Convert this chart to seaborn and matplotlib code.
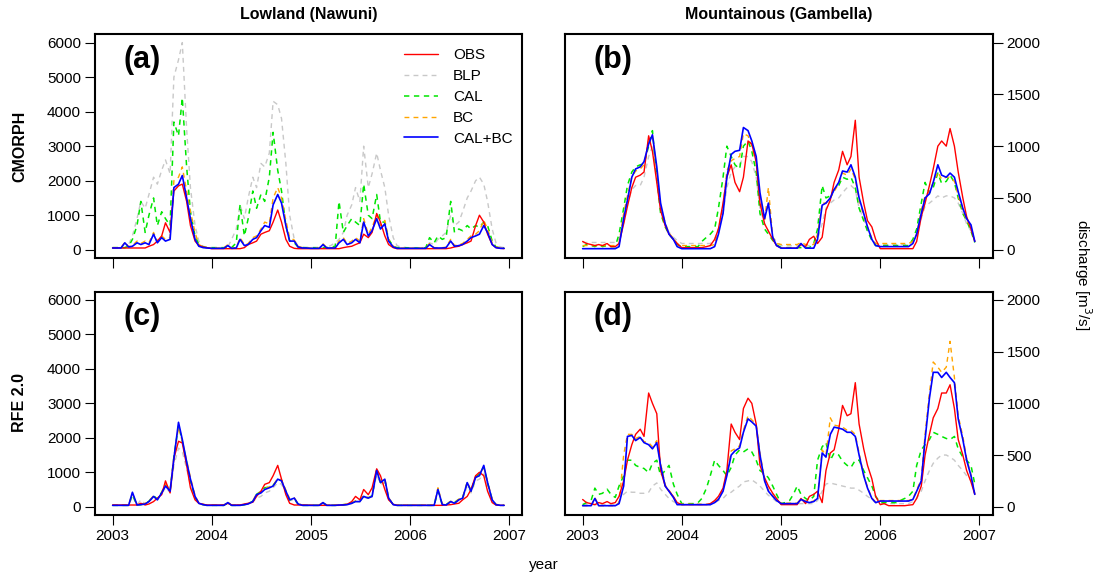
import numpy as np
import pandas as pd
import matplotlib
matplotlib.use("Agg")
import matplotlib.pyplot as plt
from matplotlib.lines import Line2D
import seaborn as sns

sns.set_theme(style="white")
plt.rcParams['font.family'] = ['Liberation Sans', 'DejaVu Sans']
plt.rcParams['text.color'] = 'black'
plt.rcParams['axes.labelcolor'] = 'black'

# semi-monthly dates 2003-01-01 .. 2006-12-15
dates = pd.date_range('2003-01-01', '2006-12-31', freq='SMS')
years = [2003, 2004, 2005, 2006, 2007]
series_names = ["OBS", "BLP", "CAL", "BC", "CAL+BC"]

# ---- Panel (a): Lowland, CMORPH ----
a_obs = [50,50,50,50,50,50,50,50,50,100,150,250,400,780,500,1700,1850,1900,1400,700,250,120,80,60,
         30,30,30,30,30,30,30,30,60,150,200,250,450,500,550,800,1150,800,300,100,40,30,30,30,
         30,30,30,30,30,30,30,30,60,80,100,150,200,450,350,500,1050,800,400,150,60,30,30,30,
         30,30,30,30,30,30,30,30,30,30,50,80,100,150,200,250,700,1000,800,450,150,60,40,30]
a_blp = [60,60,60,60,150,400,900,1400,1200,1600,2100,1900,2300,2600,2200,5000,5500,6000,3500,1800,700,250,100,70,
         60,60,60,60,80,300,600,1300,900,1500,2100,1800,2500,2400,2800,4300,4200,3800,2500,1000,300,100,70,60,
         60,60,60,60,80,120,200,300,500,1000,1300,1800,1400,3000,1800,2200,2800,2300,1800,1000,350,120,70,60,
         60,60,60,60,60,200,150,300,400,500,1000,700,800,1100,1500,1700,2000,2100,1900,1400,600,200,80,60]
a_cal = [60,60,60,60,100,300,700,1400,500,1000,1500,700,1100,900,700,3700,3300,4400,2400,1100,400,150,80,60,
         60,60,60,60,60,60,200,1300,400,900,1700,1200,1600,1400,2100,3400,2300,1700,700,250,200,80,60,60,
         60,60,60,60,60,80,100,1400,500,700,900,800,700,1900,1000,900,1600,800,800,300,100,60,60,60,
         50,50,50,50,60,350,200,400,300,350,1400,500,600,550,700,600,700,650,800,700,250,80,60,50]
a_bc = [60,60,60,220,90,120,250,180,250,200,500,250,400,300,350,2000,2100,2400,1700,1100,500,150,80,60,
        50,50,50,50,150,50,60,350,150,180,350,400,600,800,750,1500,1800,1500,850,350,280,100,60,60,
        50,50,50,170,60,60,60,250,350,180,250,350,250,900,450,650,1000,700,850,300,100,50,50,50,
        50,50,50,50,50,180,60,60,60,70,300,120,150,180,300,400,450,550,850,600,200,80,50,50]
a_calbc = [50,50,50,200,80,100,200,150,200,150,450,200,350,250,300,1800,1900,2150,1500,900,300,100,60,50,
           40,40,40,40,120,40,50,300,120,150,300,350,550,700,650,1300,1600,1350,700,250,250,80,50,50,
           40,40,40,150,50,50,50,200,300,150,200,300,200,800,400,550,900,600,750,250,80,40,40,40,
           40,40,40,40,40,150,50,50,50,60,250,100,120,150,250,350,400,450,700,500,150,60,40,40]

# ---- Panel (b): Mountainous, CMORPH ----
b_obs = [80,60,50,40,50,40,60,30,30,60,250,420,600,700,720,750,1100,950,650,380,230,150,100,60,
         20,20,20,20,20,20,30,40,100,200,450,700,820,650,560,700,1050,1020,850,450,250,180,100,40,
         15,15,15,15,15,50,30,100,130,60,120,380,480,650,770,950,820,900,1250,700,450,280,220,100,
         10,10,10,10,10,10,10,10,10,80,320,450,620,780,1000,1050,1000,1170,1000,750,500,320,200,80]
b_blp = [70,70,70,70,70,70,70,70,70,100,250,450,580,620,620,700,900,1000,700,400,250,170,120,90,
         60,60,60,60,60,60,60,60,100,200,350,600,750,800,820,900,900,850,700,400,250,180,120,80,
         40,40,40,40,40,40,40,40,60,100,250,400,450,480,500,550,600,620,580,400,300,180,100,60,
         50,50,50,50,50,50,50,50,80,150,300,420,450,480,520,500,520,520,500,450,350,250,180,80]
b_cal = [30,50,40,30,50,30,40,30,30,150,400,620,750,800,820,830,1000,1150,700,350,220,150,100,50,
         30,30,30,30,30,80,120,150,200,400,700,1000,900,820,780,1000,1050,950,750,350,200,150,90,50,
         20,20,20,20,20,20,20,20,60,200,620,500,520,580,620,700,680,700,600,400,280,180,90,40,
         40,40,40,40,40,40,40,40,100,200,450,650,550,600,740,640,660,720,650,500,350,280,180,70]
b_bc = [40,40,40,40,40,40,40,40,40,60,350,520,700,760,780,820,1050,1100,750,420,260,160,110,60,
        40,40,40,40,40,40,40,40,50,200,420,760,860,880,900,1120,1100,1000,850,500,280,600,120,60,
        50,50,50,50,50,70,50,50,50,150,450,450,500,560,640,740,720,780,680,480,330,220,110,60,
        60,60,60,60,60,60,60,60,80,150,380,520,560,650,750,680,700,700,660,520,380,280,220,80]
b_calbc = [10,10,10,10,10,10,10,10,10,30,300,480,700,780,800,850,1020,1110,800,450,250,150,100,30,
           10,10,10,10,10,10,10,10,30,150,350,700,920,950,960,1180,1150,1050,900,550,300,450,120,40,
           15,15,15,15,15,60,15,15,15,100,430,450,500,580,650,760,750,820,700,500,350,220,100,40,
           30,30,30,30,30,30,30,30,60,150,350,500,540,650,820,720,700,740,700,560,400,300,240,80]

# ---- Panel (c): Lowland, RFE 2.0 ----
c_obs = [50,50,50,50,50,50,50,100,50,80,150,250,350,750,400,1400,1900,1850,1200,550,200,100,70,50,
         50,50,50,50,100,50,50,50,80,100,130,300,450,650,700,900,1200,800,350,100,50,50,50,50,
         40,40,40,40,40,40,40,40,60,70,150,300,200,500,350,550,1100,900,500,200,70,40,40,40,
         40,40,40,40,40,40,40,40,40,50,60,80,100,200,300,500,900,1000,900,450,120,50,40,40]
c_blp = [40,40,40,40,40,300,50,200,80,140,280,200,380,550,420,1200,1700,1600,1100,650,250,90,50,40,
         40,40,40,40,100,40,40,40,60,80,140,250,300,400,450,550,700,650,400,180,200,70,40,40,
         40,40,40,100,40,40,40,50,50,60,90,140,140,280,230,280,950,650,700,220,60,40,40,40,
         40,40,40,40,40,40,40,550,60,50,130,100,180,230,600,400,750,800,950,600,180,60,40,40]
c_cal = [40,40,40,40,40,350,50,60,90,160,320,220,420,650,460,1450,2350,1900,1300,750,280,100,60,40,
         40,40,40,40,110,40,40,40,60,90,160,360,450,550,570,620,800,760,450,200,230,80,40,40,
         40,40,40,110,40,40,40,50,60,70,110,160,160,320,260,320,1050,700,780,240,60,40,40,40,
         40,40,40,40,40,40,40,450,60,60,160,120,220,260,700,450,850,950,1150,700,200,60,40,40]
c_bc = [50,50,50,50,50,380,60,70,100,170,320,220,420,650,480,1450,2300,1900,1350,850,320,110,70,50,
        50,50,50,50,130,50,50,50,70,90,170,380,420,520,580,620,820,780,480,230,260,90,50,50,
        50,50,50,130,50,50,50,60,60,70,110,170,170,320,260,320,1100,720,820,260,70,50,50,50,
        50,50,50,50,50,50,50,550,70,60,160,120,220,270,720,470,900,950,1150,720,220,70,50,50]
c_calbc = [40,40,40,40,40,420,50,60,80,150,300,200,400,600,450,1400,2450,1950,1300,800,300,100,60,40,
           40,40,40,40,120,40,40,40,60,80,150,350,400,500,550,600,800,750,450,200,250,80,40,40,
           40,40,40,120,40,40,40,50,50,60,100,150,150,300,250,300,1050,700,800,250,60,40,40,40,
           40,40,40,40,40,40,40,500,60,50,150,100,200,250,700,450,850,900,1200,700,200,60,40,40]

# ---- Panel (d): Mountainous, RFE 2.0 ----
d_obs = [70,40,30,20,40,30,50,30,40,100,250,450,600,700,750,680,1100,1000,900,350,200,150,100,40,
         20,20,20,20,20,20,20,30,60,100,180,350,800,720,650,950,1050,1000,800,400,280,200,130,80,
         20,20,20,20,20,80,30,100,120,150,40,350,520,550,750,980,880,900,1200,800,560,400,270,100,
         20,30,10,10,10,10,10,15,20,80,200,500,700,860,950,1100,1100,1180,950,650,500,350,240,120]
d_blp = [20,20,20,20,20,20,20,20,20,50,120,150,140,140,130,130,140,200,230,170,120,80,50,30,
         20,20,20,20,20,20,20,20,40,60,80,120,140,170,200,240,250,260,230,200,150,110,80,50,
         30,30,30,30,30,30,30,30,30,60,150,220,230,220,210,200,190,180,180,160,130,100,70,40,
         30,30,30,30,30,30,30,30,50,80,150,250,350,420,470,500,500,480,450,400,350,300,260,200]
d_cal = [20,40,60,180,120,130,170,120,90,200,300,450,450,400,380,370,330,420,450,300,350,400,220,120,
         30,30,30,30,40,80,180,300,450,400,350,300,380,500,550,530,560,530,450,350,320,280,200,120,
         30,40,60,120,200,120,80,60,100,450,580,620,450,520,500,440,400,380,450,450,350,280,200,100,
         40,40,40,40,40,60,80,100,150,400,550,600,650,720,700,680,660,650,680,560,480,450,400,220]
d_bc = [10,10,10,90,10,10,10,10,10,40,500,700,700,660,680,630,620,580,640,420,210,160,95,25,
        25,25,25,25,25,25,25,25,45,80,170,320,540,560,590,740,880,840,800,520,260,160,105,65,
        35,35,35,35,35,75,55,45,55,90,550,500,860,790,780,770,740,740,700,520,310,190,85,45,
        60,60,60,60,60,60,60,60,75,160,270,700,1100,1400,1350,1300,1350,1600,1250,880,680,470,310,125]
d_calbc = [10,10,10,80,10,10,10,10,10,30,200,680,690,640,670,620,600,560,620,400,200,150,90,20,
           20,20,20,20,20,20,20,20,40,70,150,300,500,540,570,720,850,820,780,500,250,150,100,60,
           30,30,30,30,30,70,50,40,50,80,520,480,700,770,760,750,720,720,680,500,300,180,80,40,
           55,55,55,55,55,55,55,55,70,150,250,650,1050,1300,1300,1250,1300,1250,1200,850,650,450,300,120]

panels = {
    "a": dict(obs=a_obs, blp=a_blp, cal=a_cal, bc=a_bc, calbc=a_calbc),
    "b": dict(obs=b_obs, blp=b_blp, cal=b_cal, bc=b_bc, calbc=b_calbc),
    "c": dict(obs=c_obs, blp=c_blp, cal=c_cal, bc=c_bc, calbc=c_calbc),
    "d": dict(obs=d_obs, blp=d_blp, cal=d_cal, bc=d_bc, calbc=d_calbc),
}

colors = dict(obs="#FF0000", blp="#C8C8C8", cal="#00E600", bc="#FFA500", calbc="#0000FF")
dash = (0, (3.5, 3))
styles = dict(obs="-", blp=dash, cal=dash, bc=dash, calbc="-")
widths = dict(obs=1.0, blp=1.0, cal=1.1, bc=1.0, calbc=1.2)
order = ["blp", "cal", "bc", "obs", "calbc"]

W, H = 1094, 579
fig = plt.figure(figsize=(W / 100, H / 100), dpi=100)

def frac_box(x0, x1, ytop, ybot):
    return [x0 / W, 1 - ybot / H, (x1 - x0) / W, (ybot - ytop) / H]

boxes = {
    "a": frac_box(95, 522, 34.3, 258),
    "b": frac_box(565, 992.7, 34.3, 258),
    "c": frac_box(95, 522, 291.7, 515),
    "d": frac_box(565, 992.7, 291.7, 515),
}

xlo = pd.Timestamp('2003-01-01') - pd.Timedelta(days=65)
xhi = pd.Timestamp('2007-01-01') + pd.Timedelta(days=49)
xt = [pd.Timestamp(f'{y}-01-01') for y in years]

for key, d in panels.items():
    ax = fig.add_axes(boxes[key])
    for s in order:
        sns.lineplot(x=dates, y=np.array(d[s], dtype=float), ax=ax, color=colors[s],
                     linestyle=styles[s], linewidth=widths[s], estimator=None)
    ax.set_xlim(xlo, xhi)
    right = key in ("b", "d")
    bottom = key in ("c", "d")
    if right:
        ax.set_ylim(-80, 2080)
        ax.set_yticks([0, 500, 1000, 1500, 2000])
        ax.yaxis.tick_right()
    else:
        ax.set_ylim(-240, 6240)
        ax.set_yticks([0, 1000, 2000, 3000, 4000, 5000, 6000])
    ax.set_xticks(xt)
    ax.set_xticklabels([str(y) for y in years] if bottom else [])
    ax.tick_params(axis='both', direction='out', length=7, width=0.8, labelsize=11,
                   colors='black', pad=3)
    if right:
        ax.tick_params(axis='y', left=False, right=True, labelleft=False, labelright=True)
    else:
        ax.tick_params(axis='y', left=True, right=False)
    ax.tick_params(axis='x', bottom=True, top=False)
    for sp in ax.spines.values():
        sp.set_visible(True)
        sp.set_color('black')
        sp.set_linewidth(1.5)
    ax.set_xlabel("")
    ax.set_ylabel("")
    ax.grid(False)
    ax.set_facecolor('white')
    ax.text(0.067, 0.885, f"({key})", transform=ax.transAxes, fontsize=22,
            fontweight='bold', ha='left', va='center', color='black')
    if key == "a":
        handles = [Line2D([], [], color=colors[k], linestyle=styles[k], linewidth=widths[k])
                   for k in ["obs", "blp", "cal", "bc", "calbc"]]
        leg = ax.legend(handles, series_names, loc='upper left', bbox_to_anchor=(0.71, 0.965),
                        frameon=False, fontsize=11, handlelength=2.2, handletextpad=1.0,
                        labelspacing=0.45, borderaxespad=0)
        for t in leg.get_texts():
            t.set_color('black')

fig.text(308.5 / W, 1 - 15 / H, "Lowland (Nawuni)", ha='center', va='center',
         fontsize=11.5, fontweight='bold')
fig.text(779 / W, 1 - 15 / H, "Mountainous (Gambella)", ha='center', va='center',
         fontsize=11.5, fontweight='bold')
fig.text(20 / W, 1 - 146 / H, "CMORPH", rotation=90, ha='center', va='center',
         fontsize=11.5, fontweight='bold')
fig.text(20 / W, 1 - 403 / H, "RFE 2.0", rotation=90, ha='center', va='center',
         fontsize=11.5, fontweight='bold')
fig.text(1083 / W, 1 - 275 / H, "discharge [m$^3$/s]", rotation=270, ha='center',
         va='center', fontsize=11)
fig.text(544 / W, 1 - 565 / H, "year", ha='center', va='center', fontsize=11)

fig.savefig("out.png", dpi=100, facecolor='white')
